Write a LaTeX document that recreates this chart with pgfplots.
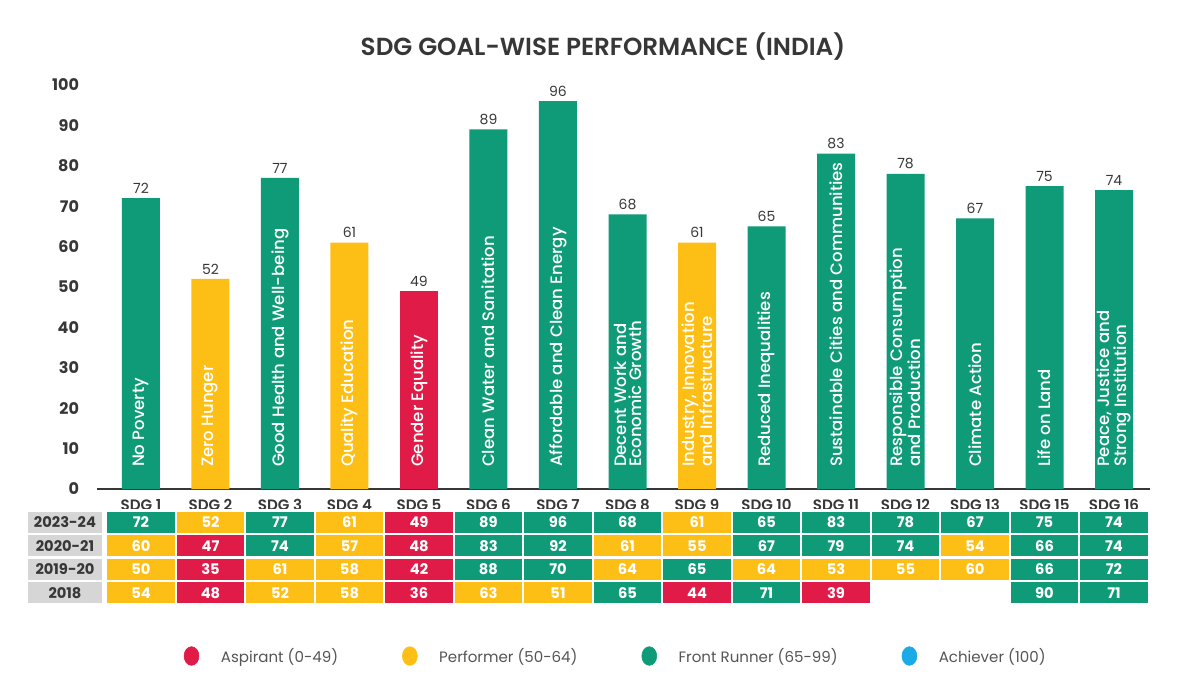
\documentclass[border=0pt]{standalone}
\usepackage{fontspec}
\setmainfont{Poppins}
\newfontfamily\medfont{Poppins Medium}
\newfontfamily\semifont{Poppins SemiBold}
\usepackage{pgfplots}
\usepackage{pgfplotstable}
\pgfplotsset{compat=1.18}

\definecolor{sgreen}{RGB}{16,155,120}
\definecolor{syellow}{RGB}{253,190,22}
\definecolor{sred}{RGB}{225,27,72}
\definecolor{sblue}{RGB}{26,170,230}
\definecolor{sgray}{RGB}{214,214,214}
\definecolor{stext}{RGB}{55,55,55}
\newcommand\fs[2]{\fontsize{#1}{#2}\selectfont}

\pgfdeclareplotmark{cell}{\pgfpathrectangle{\pgfpoint{-26.06pt}{-8.81pt}}{\pgfpoint{52.12pt}{17.62pt}}\pgfusepathqfillstroke}
\pgfdeclareplotmark{yearcell}{\pgfpathrectangle{\pgfpoint{-28.9pt}{-8.81pt}}{\pgfpoint{57.8pt}{17.62pt}}\pgfusepathqfillstroke}

% 2023-24 scores (bars)
\pgfplotstableread{
x v name
1 72 {No Poverty}
2 52 {Zero Hunger}
3 77 {Good Health and Well-being}
4 61 {Quality Education}
5 49 {Gender Equality}
6 89 {Clean Water and Sanitation}
7 96 {Affordable and Clean Energy}
8 68 {Decent Work and\\Economic Growth}
9 61 {Industry, Innovation\\and Infrastructure}
10 65 {Reduced Inequalities}
11 83 {Sustainable Cities and Communities}
12 78 {Responsible Consumption\\and Production}
13 67 {Climate Action}
14 75 {Life on Land}
15 74 {Peace, Justice and\\Strong Institution}
}\bars

% table cells: x = goal position, r = row (0 = 2023-24 ... 3 = 2018), v = score
\pgfplotstableread{
x r v
1 0 72
2 0 52
3 0 77
4 0 61
5 0 49
6 0 89
7 0 96
8 0 68
9 0 61
10 0 65
11 0 83
12 0 78
13 0 67
14 0 75
15 0 74
1 1 60
2 1 47
3 1 74
4 1 57
5 1 48
6 1 83
7 1 92
8 1 61
9 1 55
10 1 67
11 1 79
12 1 74
13 1 54
14 1 66
15 1 74
1 2 50
2 2 35
3 2 61
4 2 58
5 2 42
6 2 88
7 2 70
8 2 64
9 2 65
10 2 64
11 2 53
12 2 55
13 2 60
14 2 66
15 2 72
1 3 54
2 3 48
3 3 52
4 3 58
5 3 36
6 3 63
7 3 51
8 3 65
9 3 44
10 3 71
11 3 39
14 3 90
15 3 71
}\cells

\pgfplotstableread{
r year
0 2023-24
1 2020-21
2 2019-20
3 2018
}\years

\begin{document}
\begin{tikzpicture}
\useasboundingbox (-72.75pt,-148.5pt) rectangle (816.75pt,366.75pt);
\begin{axis}[
  at={(0,0)}, anchor=south west,
  scale only axis, width=789.75pt, height=303pt,
  xmin=0.367, xmax=15.518, ymin=0, ymax=100,
  axis lines*=left,
  x axis line style={stext, line width=1.2pt, -},
  y axis line style={draw=none},
  tick style={draw=none},
  ytick={0,10,...,100},
  xtick={1,...,15},
  xticklabels={SDG 1,SDG 2,SDG 3,SDG 4,SDG 5,SDG 6,SDG 7,SDG 8,SDG 9,SDG 10,SDG 11,SDG 12,SDG 13,SDG 15,SDG 16},
  ybar, bar width=28.5pt, bar shift=0pt,
  clip=false,
  /pgf/number format/assume math mode=true,
  yticklabel style={font=\fs{12}{14}\bfseries, text=stext, xshift=-10pt},
  xticklabel style={font=\fs{11.3}{13}\semifont, text=stext},
  nodes near coords style={font=\fs{10.5}{12}, text=stext},
  legend style={at={(0.4929,-0.4134)}, anchor=center, draw=none, fill=none,
    font=\fs{11.3}{13}, text=stext!85!white, legend columns=4,
    /tikz/every even column/.append style={column sep=46pt}},
  legend cell align=left,
]
\addplot[fill=sgreen, draw=none, nodes near coords, restrict y to domain=64.5:100, forget plot] table[x=x, y=v] {\bars};
\addplot[fill=syellow, draw=none, nodes near coords, restrict y to domain=49.5:64.5, forget plot] table[x=x, y=v] {\bars};
\addplot[fill=sred, draw=none, nodes near coords, restrict y to domain=0:49.5, forget plot] table[x=x, y=v] {\bars};
\addplot[draw=none, fill=none, forget plot,
  point meta=explicit symbolic,
  nodes near coords,
  every node near coord/.append style={font=\fs{12.4}{11.2}\medfont, text=white, yshift=13pt, rotate=90, anchor=west, align=left}]
  table[x=x, y expr=0, meta=name] {\bars};

\addlegendimage{legend image code/.code={\fill[sred] (0pt,0pt) ellipse (5.6pt and 7pt); \path[draw=none] (-5.6pt,0pt) -- (20pt,0pt);}}
\addlegendentry{Aspirant (0-49)}
\addlegendimage{legend image code/.code={\fill[syellow] (0pt,0pt) ellipse (5.6pt and 7pt); \path[draw=none] (-5.6pt,0pt) -- (20pt,0pt);}}
\addlegendentry{Performer (50-64)}
\addlegendimage{legend image code/.code={\fill[sgreen] (0pt,0pt) ellipse (5.6pt and 7pt); \path[draw=none] (-5.6pt,0pt) -- (20pt,0pt);}}
\addlegendentry{Front Runner (65-99)}
\addlegendimage{legend image code/.code={\fill[sblue] (0pt,0pt) ellipse (5.6pt and 7pt); \path[draw=none] (-5.6pt,0pt) -- (20pt,0pt);}}
\addlegendentry{Achiever (100)}
\end{axis}

\begin{axis}[
  at={(0,-86.625pt)}, anchor=south west,
  scale only axis, width=789.75pt, height=70.5pt,
  xmin=0.367, xmax=15.518, ymin=-4, ymax=0,
  hide axis, clip=false,
  /pgf/number format/assume math mode=true,
  nodes near coords style={anchor=center, font=\fs{11}{12}\bfseries, text=white},
]
\addplot[only marks, mark=cell, mark options={fill=sgreen, draw=white, line width=1.8pt},
  restrict expr to domain={\thisrow{v}}{64.5:100}, point meta=explicit, nodes near coords]
  table[x=x, y expr=-\thisrow{r}-0.5, meta=v] {\cells};
\addplot[only marks, mark=cell, mark options={fill=syellow, draw=white, line width=1.8pt},
  restrict expr to domain={\thisrow{v}}{49.5:64.5}, point meta=explicit, nodes near coords]
  table[x=x, y expr=-\thisrow{r}-0.5, meta=v] {\cells};
\addplot[only marks, mark=cell, mark options={fill=sred, draw=white, line width=1.8pt},
  restrict expr to domain={\thisrow{v}}{0:49.5}, point meta=explicit, nodes near coords]
  table[x=x, y expr=-\thisrow{r}-0.5, meta=v] {\cells};
\addplot[only marks, mark=yearcell, mark options={fill=sgray, draw=white, line width=1.8pt},
  point meta=explicit symbolic, nodes near coords,
  every node near coord/.append style={text=stext}]
  table[x expr=-0.0935, y expr=-\thisrow{r}-0.5, meta=year] {\years};
\end{axis}

\node[font=\fs{18.5}{22}\semifont, text=stext] at (379.5pt,331.5pt) {SDG GOAL-WISE PERFORMANCE (INDIA)};
\end{tikzpicture}
\end{document}
